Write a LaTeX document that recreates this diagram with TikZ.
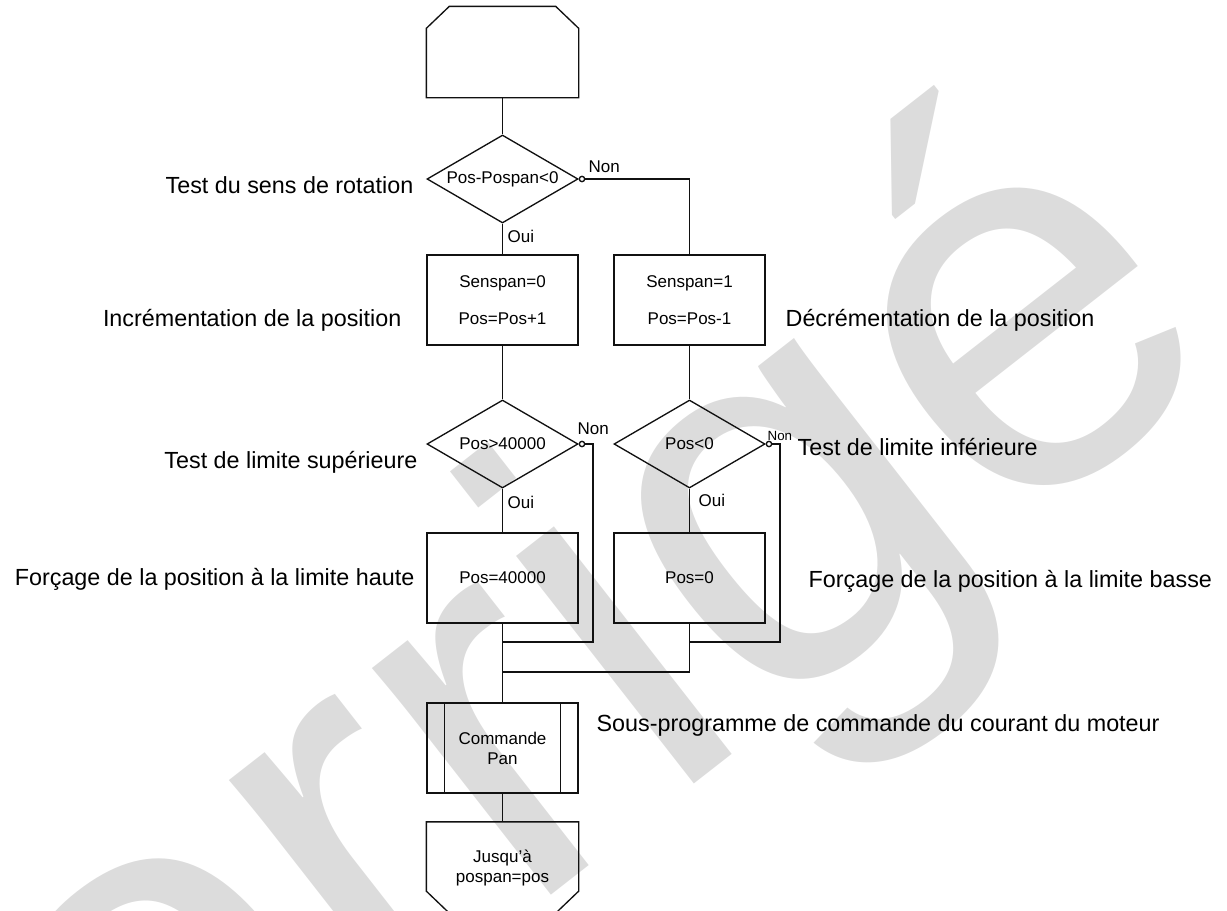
\documentclass[tikz,border=0pt]{standalone}
\usepackage{fontspec}
\setmainfont{Liberation Sans}
\usepackage{tikz}
\usetikzlibrary{arrows.meta,calc,positioning,shapes.geometric}
\definecolor{trait}{HTML}{111111}
\definecolor{filigrane}{HTML}{DCDCDC}

\newcommand{\petit}{\fontsize{12.75}{15}\selectfont}
\newcommand{\grand}{\fontsize{17.5}{21}\selectfont}

\begin{document}
\begin{tikzpicture}[x=0.75pt,y=-0.75pt,line width=1pt,
  bloc/.style={draw=trait,rectangle,minimum width=113.25pt,minimum height=67.5pt,inner sep=0pt,align=center,font=\petit},
  forme/.style={rectangle,minimum width=113.25pt,minimum height=67.5pt,inner sep=0pt,align=center,font=\petit},
  testlos/.style={draw=trait,diamond,minimum width=113.25pt,minimum height=66pt,inner sep=0pt,shape aspect=1.7,font=\petit},
  comment/.style={font=\grand,inner sep=0pt},
  choix/.style={font=\petit,inner sep=0pt},
  non/.style={{Circle[open,length=5pt,width=5pt]}-}]
  \useasboundingbox (0,0) rectangle (1227,910);

  % filigrane
  \node[rotate=38,text=filigrane,font=\fontsize{410}{410}\selectfont] (corrige) at (445,795) {Corrigé};

  % debut de boucle
  \node[forme] (debut) at (502.5,52) {};
  \draw[trait] ($(debut.north west)+(0,22)$) -- ($(debut.north west)+(23,0)$) -- ($(debut.north east)+(-23,0)$)
    -- ($(debut.north east)+(0,22)$) -- (debut.south east) -- (debut.south west) -- cycle;

  \node[testlos] (sens) at (502.5,179) {Pos-Pospan<0};
  \node[bloc] (incr) at (502.5,300) {Senspan=0\\[13pt]Pos=Pos+1};
  \node[bloc] (decr) at (689.5,300) {Senspan=1\\[13pt]Pos=Pos-1};
  \node[testlos] (tsup) at (502.5,444) {Pos>40000};
  \node[testlos] (tinf) at (689.5,444) {Pos<0};
  \node[bloc] (fsup) at (502.5,578) {Pos=40000};
  \node[bloc] (finf) at (689.5,578) {Pos=0};
  \node[bloc] (cmd) at (502.5,748) {Commande\\Pan};
  \draw[trait] ($(cmd.north west)+(18,0)$) -- ($(cmd.south west)+(18,0)$);
  \draw[trait] ($(cmd.north east)+(-18,0)$) -- ($(cmd.south east)+(-18,0)$);

  % fin de boucle
  \node[forme] (fin) at (502.5,867.5) {Jusqu'à\\pospan=pos};
  \draw[trait] (fin.north west) -- (fin.north east) -- ($(fin.south east)+(0,-22)$) -- ($(fin.south east)+(-23,0)$)
    -- ($(fin.south west)+(23,0)$) -- ($(fin.south west)+(0,-22)$) -- cycle;

  \coordinate (j1) at (502.5,642);
  \coordinate (j2) at (689.5,642);
  \coordinate (j3) at (502.5,672);
  \coordinate (r1) at (593,642);
  \coordinate (r2) at (780,642);

  \draw[trait] (debut) -- (sens);
  \draw[trait] (sens) -- (incr);
  \draw[trait,non] (sens.east) -| (decr.north);
  \draw[trait] (incr) -- (tsup);
  \draw[trait] (decr) -- (tinf);
  \draw[trait] (tsup) -- (fsup);
  \draw[trait] (tinf) -- (finf);
  \draw[trait,non] (tsup.east) -| (r1) -- (j1);
  \draw[trait,non] (tinf.east) -| (r2) -- (j2);
  \draw[trait] (fsup) -- (j1) -- (j3) -- (cmd);
  \draw[trait] (finf) -- (j2) |- (j3);
  \draw[trait] (cmd) -- (fin);

  % Oui / Non
  \node[choix,anchor=base west] (non1) at (588,172) {Non};
  \node[choix,anchor=base west] (oui1) at (507,242) {Oui};
  \node[choix,anchor=base west] (non2) at (577,434) {Non};
  \node[choix,anchor=base west] (oui2) at (507,508) {Oui};
  \node[choix,anchor=base west,font=\fontsize{10}{12}\selectfont] (non3) at (767,440) {Non};
  \node[choix,anchor=base west] (oui3) at (698,506) {Oui};

  % commentaires
  \node[comment,anchor=base east] (c1) at (414,193) {Test du sens de rotation};
  \node[comment,anchor=base east] (c2) at (402,326) {Incrémentation de la position};
  \node[comment,anchor=base west] (c3) at (785,326) {Décrémentation de la position};
  \node[comment,anchor=base east] (c4) at (418,468) {Test de limite supérieure};
  \node[comment,anchor=base west] (c5) at (797,455) {Test de limite inférieure};
  \node[comment,anchor=base east] (c6) at (415,585) {Forçage de la position à la limite haute};
  \node[comment,anchor=base west] (c7) at (808,587) {Forçage de la position à la limite basse};
  \node[comment,anchor=base west] (c8) at (596,731) {Sous-programme de commande du courant du moteur};
\end{tikzpicture}
\end{document}
